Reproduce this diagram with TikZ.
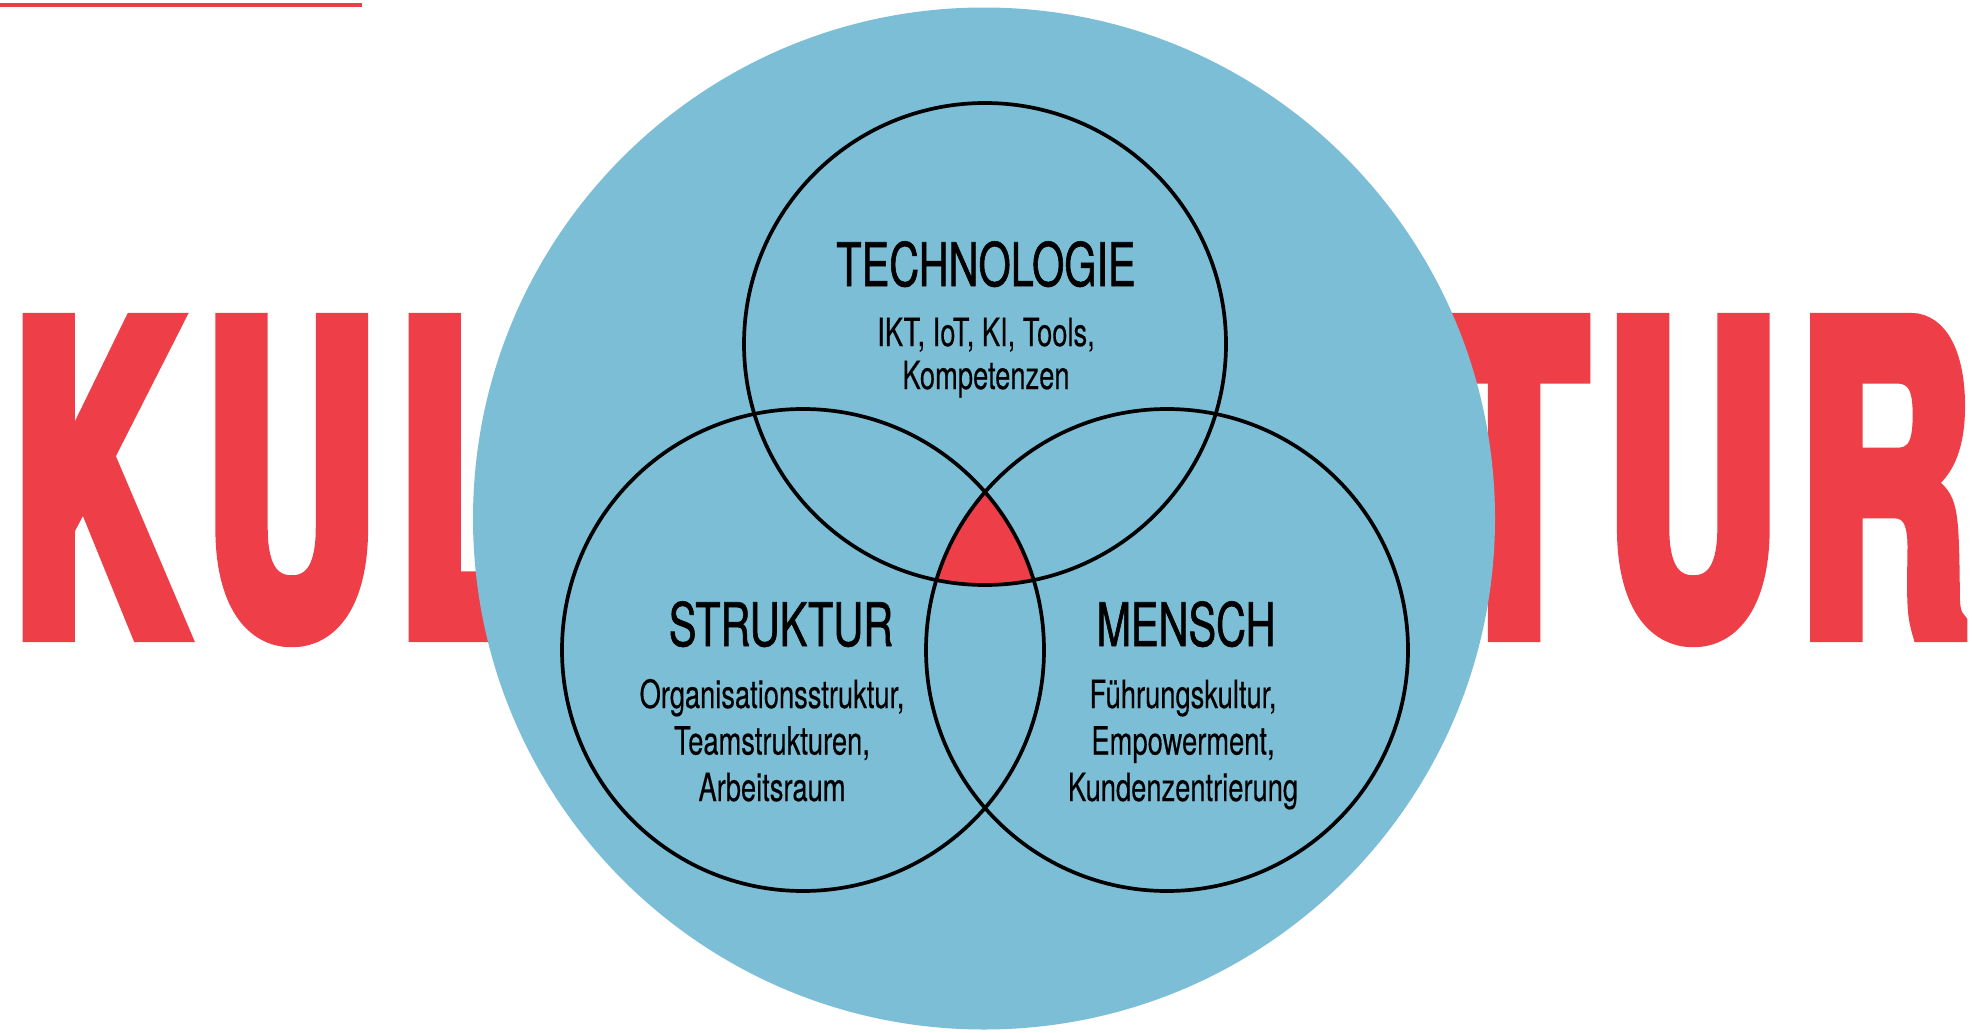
\documentclass[tikz,border=0pt]{standalone}
\usepackage{fontspec}
\setmainfont{TeX Gyre Heros}
\newfontfamily\condfont[FakeStretch=0.7,FakeBold=0.3]{TeX Gyre Heros}
\newfontfamily\titlefont[FakeStretch=0.69,FakeBold=1]{TeX Gyre Heros}
\newfontfamily\bigfont[FakeStretch=0.548,FakeBold=4]{TeX Gyre Heros}
\definecolor{kred}{HTML}{EE3E48}
\definecolor{kblue}{HTML}{7DBED7}
\tikzset{
  ring/.style={circle, draw=black, line width=1.85pt, minimum size=241pt, inner sep=0pt},
  bigword/.style={anchor=base west, inner sep=0pt, text=kred, font=\bigfont\bfseries\fontsize{214}{214}\selectfont},
  title/.style={anchor=base, inner sep=0pt, font=\titlefont\fontsize{30}{30}\selectfont},
  body/.style={anchor=base, inner sep=0pt, align=center, font=\condfont\fontsize{19.5}{23.25}\selectfont},
}
\begin{document}
\begin{tikzpicture}[x=0.5pt, y=-0.5pt]
\useasboundingbox (0,0) rectangle (1972,1033);
% top rule
\coordinate (r1) at (0,5);
\coordinate (r2) at (362,5);
\draw[kred, line width=2pt] (r1) -- (r2);
% big word
\node[bigword] (kul) at (13.4,633.5) {K\kern11.5pt U\kern11.5pt L};
\node[bigword] (tur) at (1441,633.5) {T\kern11.5pt U\kern11.5pt R};
% big blue disc
\node[circle, fill=kblue, minimum size=511pt, inner sep=0pt] (disc) at (984,518.5) {};
% three circles
\coordinate (ct) at (985,344);
\coordinate (cl) at (803,650);
\coordinate (cr) at (1167,650);
\begin{scope}
  \clip (ct) circle[radius=120.5pt];
  \clip (cl) circle[radius=120.5pt];
  \fill[kred] (cr) circle[radius=120.5pt];
\end{scope}
\node[ring] (tech) at (ct) {};
\node[ring] (str) at (cl) {};
\node[ring] (men) at (cr) {};
% texts
\node[title] (ttech) at (986,286) {TECHNOLOGIE};
\node[body, font=\condfont\fontsize{19.5}{21.5}\selectfont] (btech) at (986,389) {IKT, IoT, KI, Tools,\\Kompetenzen};
\node[title] (tstr) at (781,646) {STRUKTUR};
\node[body] (bstr) at (772,801) {Organisationsstruktur,\\Teamstrukturen,\\Arbeitsraum};
\node[title] (tmen) at (1186,646) {MENSCH};
\node[body] (bmen) at (1183,801) {Führungskultur,\\Empowerment,\\Kundenzentrierung};
\end{tikzpicture}
\end{document}
